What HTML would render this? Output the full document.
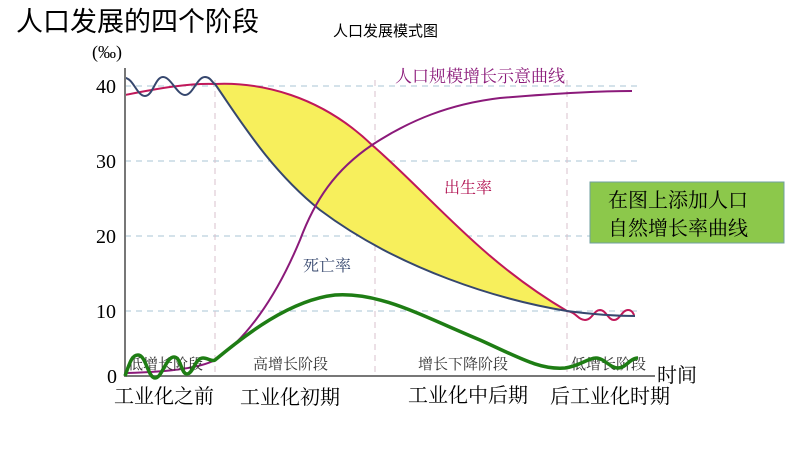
<!DOCTYPE html><html><head><meta charset="utf-8"><style>body{margin:0;background:#fff}svg text{font-family:"Liberation Serif","Noto Serif CJK SC",serif}</style></head><body>
<svg width="794" height="447" viewBox="0 0 794 447" xmlns="http://www.w3.org/2000/svg">
<text x="16" y="31" font-size="27" style="font-family:'Liberation Sans','Noto Sans CJK SC',sans-serif">人口发展的四个阶段</text>
<text x="333" y="36" font-size="15" style="font-family:'Liberation Sans','Noto Sans CJK SC',sans-serif">人口发展模式图</text>
<text x="92" y="58" font-size="18">(‰)</text>
<g stroke="#a9c4d4" stroke-dasharray="6,5" stroke-width="1"><line x1="125" y1="86" x2="640" y2="86"/><line x1="125" y1="161" x2="640" y2="161"/><line x1="125" y1="236" x2="590" y2="236"/><line x1="125" y1="311" x2="640" y2="311"/></g>
<g stroke="#d9c0cc" stroke-dasharray="6,5" stroke-width="1"><line x1="215" y1="80" x2="215" y2="376"/><line x1="375" y1="80" x2="375" y2="376"/><line x1="567" y1="80" x2="567" y2="376"/></g>
<path d="M215,84 C260,82 320,95 372,145 C430,195 480,260 567,311 C500,300 400,270 320,210 C270,170 240,120 215,84Z" fill="#f7ef5c"/>
<path d="M125,95 C160,88 190,83 215,84 C260,82 320,95 372,145 C430,195 480,260 567,311 C576,312 578,320 585,320 C592,320 594,310 600,310 C606,310 608,320 614,320 C620,320 622,310 628,310 C632,310 634,314 634,316" fill="none" stroke="#c0185a" stroke-width="2"/>
<path d="M125,78 C133,78 137,96 145,96 C153,96 155,77 163,77 C171,77 177,95 185,95 C193,95 197,77 205,77 C211,77 213,84 215,84 C240,120 270,170 320,210 C400,270 500,300 567,311 C590,314 610,316 635,316" fill="none" stroke="#36476e" stroke-width="2"/>
<path d="M125,373 C170,372 200,368 215,360 C245,340 275,300 300,240 C315,200 335,170 372,145 C410,120 450,104 500,98 C560,93 600,91 632,91" fill="none" stroke="#8b1a7a" stroke-width="2"/>
<line x1="125" y1="68" x2="125" y2="377" stroke="#777" stroke-width="2"/>
<line x1="124" y1="376" x2="655" y2="376" stroke="#777" stroke-width="2"/>
<g font-size="20"><text x="96" y="93">40</text><text x="96" y="168">30</text><text x="96" y="243">20</text><text x="96" y="318">10</text><text x="107" y="383">0</text></g>
<g font-size="15" fill="#333"><text x="128" y="369">低增长阶段</text><text x="253" y="369">高增长阶段</text><text x="418" y="369">增长下降阶段</text><text x="571" y="369">低增长阶段</text></g>
<text x="657" y="382" font-size="20">时间</text>
<g font-size="20"><text x="114" y="403">工业化之前</text><text x="240" y="404">工业化初期</text><text x="408" y="402">工业化中后期</text><text x="550" y="403">后工业化时期</text></g>
<g style="font-family:'Liberation Sans','Noto Sans CJK SC',sans-serif" fill="#8b1a7a"><text x="395" y="82" font-size="17">人口规模增长示意曲线</text><text x="444" y="193" font-size="16" fill="#b01050">出生率</text><text x="303" y="271" font-size="16" fill="#36476e">死亡率</text></g>
<path d="M125,376 C130,362 132,355 138,355 C146,355 148,378 155,378 C162,378 166,357 174,357 C181,357 181,374 187,374 C193,374 195,358 203,358 C208,358 212,362 215,360 C245,335 290,300 335,295 C380,292 420,315 480,340 C520,358 540,370 565,368 C580,366 588,358 596,358 C604,358 610,368 618,368 C626,368 630,358 638,358" fill="none" stroke="#1e7d14" stroke-width="3.5"/>
<rect x="590" y="182" width="194" height="61" fill="#8cc84b" stroke="#6f9f9f" stroke-width="1"/>
<g font-size="20" style="font-family:'Liberation Sans','Noto Sans CJK SC',sans-serif"><text x="608" y="207">在图上添加人口</text><text x="608" y="235">自然增长率曲线</text></g>
</svg></body></html>
